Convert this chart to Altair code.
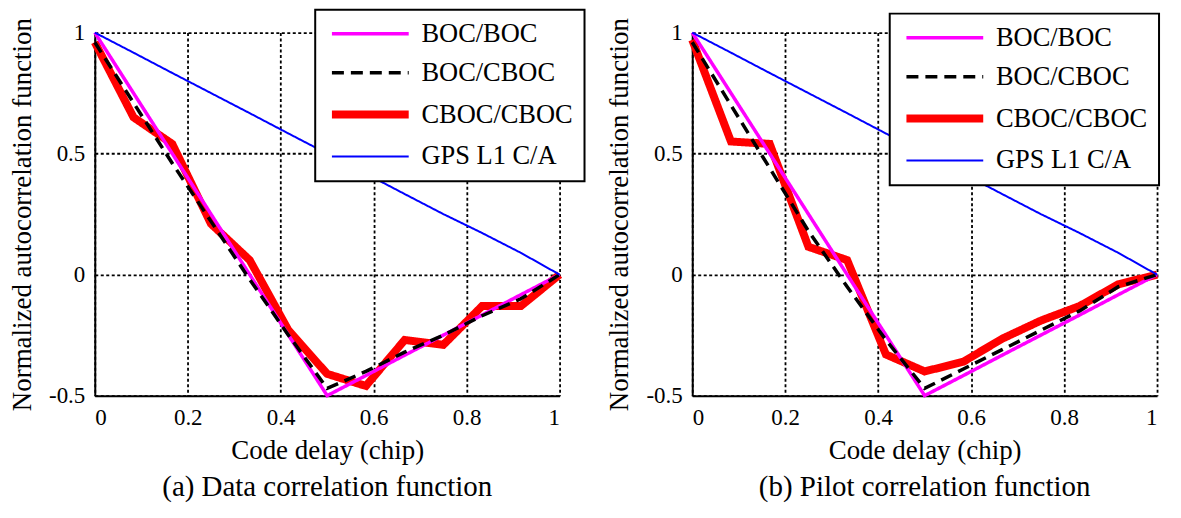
import altair as alt
import pandas as pd

delay = [0, 0.0833, 0.1667, 0.25, 0.3333, 0.4167, 0.5, 0.5833, 0.6667, 0.75, 0.8333, 0.9167, 1]

series_names = ["BOC/BOC", "BOC/CBOC", "CBOC/CBOC", "GPS L1 C/A"]
series_colors = ["#ff00ff", "#000000", "#ff0000", "#0000ff"]
series_widths = [3.5, 3.5, 8, 2]
series_dash = [[1, 0], [12, 7], [1, 0], [1, 0]]

boc_boc = [1, 0.75, 0.5, 0.25, 0, -0.25, -0.5, -0.417, -0.333, -0.25, -0.167, -0.083, 0]
gps_ca = [1, 0.917, 0.833, 0.75, 0.667, 0.583, 0.5, 0.417, 0.333, 0.25, 0.172, 0.09, 0]

data_boc_cboc = [0.96, 0.71, 0.46, 0.22, -0.02, -0.25, -0.47, -0.40, -0.32, -0.25, -0.17, -0.10, 0]
data_cboc_cboc = [0.96, 0.65, 0.54, 0.21, 0.06, -0.23, -0.41, -0.46, -0.27, -0.29, -0.13, -0.13, 0]

pilot_boc_cboc = [0.96, 0.70, 0.44, 0.18, -0.05, -0.27, -0.47, -0.39, -0.31, -0.23, -0.15, -0.05, 0]
pilot_cboc_cboc = [0.97, 0.55, 0.54, 0.115, 0.06, -0.33, -0.40, -0.36, -0.265, -0.19, -0.13, -0.04, 0]

x_ticks = [0, 0.2, 0.4, 0.6, 0.8, 1]
y_ticks = [-0.5, 0, 0.5, 1]

FONT = "Liberation Serif"


def make_df(boc_cboc, cboc_cboc):
    rows = []
    for name, vals in zip(series_names, [boc_boc, boc_cboc, cboc_cboc, gps_ca]):
        for x, y in zip(delay, vals):
            rows.append({"delay": x, "value": y, "series": name})
    return pd.DataFrame(rows)


def panel(df, caption, legend_x, legend_y):
    enc = dict(
        x=alt.X("delay:Q", scale=alt.Scale(domain=[0, 1], nice=False),
                axis=alt.Axis(values=x_ticks, format=".1~f", title="Code delay (chip)")),
        y=alt.Y("value:Q", scale=alt.Scale(domain=[-0.5, 1], nice=False),
                axis=alt.Axis(values=y_ticks,
                              labelExpr="replace(format(datum.value, '.1~f'), '\u2212', '-')",
                              title="Normalized autocorrelation function")),
        color=alt.Color("series:N", scale=alt.Scale(domain=series_names, range=series_colors),
                        legend=alt.Legend(orient="none", legendX=legend_x, legendY=legend_y,
                                          title=None, symbolType="M-8,0H8", symbolSize=92.6,
                                          labelFont=FONT, labelFontSize=26.5, labelColor="black",
                                          fillColor="white", strokeColor="black",
                                          padding=11, rowPadding=12, labelOffset=38,
                                          symbolOffset=31)),
        strokeDash=alt.StrokeDash("series:N", scale=alt.Scale(domain=series_names, range=series_dash),
                                  legend=None),
        strokeWidth=alt.StrokeWidth("series:N",
                                    scale=alt.Scale(type="ordinal", domain=series_names, range=series_widths),
                                    legend=None),
        order=alt.Order("delay:Q"),
    )
    layers = []
    for name in ["CBOC/CBOC", "BOC/BOC", "BOC/CBOC", "GPS L1 C/A"]:
        layers.append(
            alt.Chart(df).mark_line(strokeJoin="miter", strokeCap="butt")
            .encode(**enc)
            .transform_filter(alt.datum.series == name)
        )
    return alt.layer(*layers).properties(
        width=466, height=364,
        title=alt.TitleParams(caption, orient="bottom", font=FONT, fontSize=29,
                              fontWeight="normal", color="black", offset=10),
    )


left = panel(make_df(data_boc_cboc, data_cboc_cboc), "(a) Data correlation function", 221, -23)
right = panel(make_df(pilot_boc_cboc, pilot_cboc_cboc), "(b) Pilot correlation function", 198, -19)

chart = alt.hconcat(left, right, spacing=20).resolve_legend(
    color="independent", strokeDash="independent", strokeWidth="independent"
).configure_view(stroke=None).configure_axis(
    domainColor="black", domainWidth=2, grid=True, gridColor="black", gridDash=[3, 2.5],
    gridWidth=1.8, gridOpacity=1, ticks=False, labelFont=FONT, labelFontSize=23,
    labelColor="black", labelPadding=10, titleFont=FONT, titleFontSize=27,
    titleFontWeight="normal", titleColor="black", titlePadding=8,
).configure_axisX(labelPadding=11, titlePadding=8).configure_axisY(titlePadding=12).configure_legend(
    strokeWidth=2
).properties(padding={"left": 0, "top": 0, "right": 0, "bottom": 0}, background="white")

chart.save("out.html", embed_options={"renderer": "svg", "actions": False})
